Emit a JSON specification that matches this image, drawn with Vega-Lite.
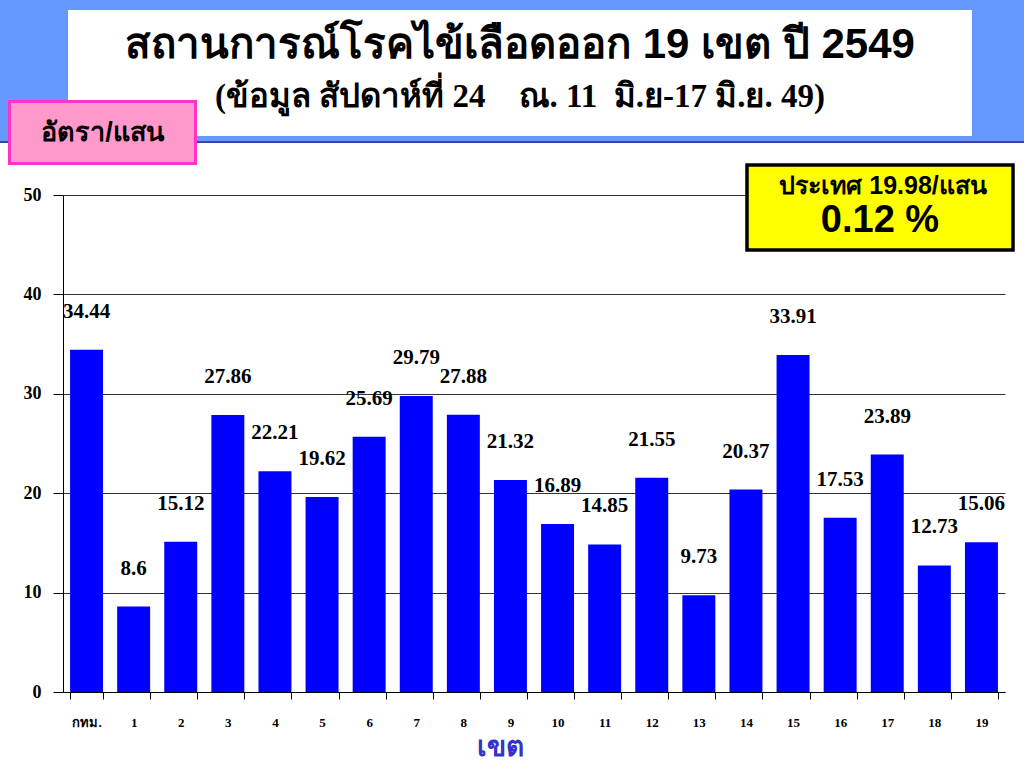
{
  "$schema": "https://vega.github.io/schema/vega-lite/v6.json",
  "autosize": {"type": "none"},
  "width": 942,
  "height": 497,
  "padding": {"left": 63, "top": 195, "right": 19, "bottom": 76},
  "background": "white",
  "title": {
    "text": "สถานการณ์โรคไข้เลือดออก 19 เขต ปี 2549",
    "subtitle": "(ข้อมูล สัปดาห์ที่ 24\u00a0\u00a0\u00a0 ณ. 11\u00a0\u00a0มิ.ย-17 มิ.ย. 49)",
    "anchor": "middle",
    "frame": "group",
    "orient": "top",
    "offset": -118,
    "dx": -14,
    "font": "Liberation Sans",
    "fontSize": 42,
    "fontWeight": "bold",
    "color": "black",
    "subtitleFont": "Liberation Serif",
    "subtitleFontSize": 33,
    "subtitleFontWeight": "bold",
    "subtitleColor": "black",
    "subtitlePadding": 14,
    "zindex": 5
  },
  "data": {
    "values": [
      {"zone": "กทม.", "rate": 34.44},
      {"zone": "1", "rate": 8.6},
      {"zone": "2", "rate": 15.12},
      {"zone": "3", "rate": 27.86},
      {"zone": "4", "rate": 22.21},
      {"zone": "5", "rate": 19.62},
      {"zone": "6", "rate": 25.69},
      {"zone": "7", "rate": 29.79},
      {"zone": "8", "rate": 27.88},
      {"zone": "9", "rate": 21.32},
      {"zone": "10", "rate": 16.89},
      {"zone": "11", "rate": 14.85},
      {"zone": "12", "rate": 21.55},
      {"zone": "13", "rate": 9.73},
      {"zone": "14", "rate": 20.37},
      {"zone": "15", "rate": 33.91},
      {"zone": "16", "rate": 17.53},
      {"zone": "17", "rate": 23.89},
      {"zone": "18", "rate": 12.73},
      {"zone": "19", "rate": 15.06}
    ]
  },
  "encoding": {
    "x": {
      "field": "zone",
      "type": "nominal",
      "sort": null,
      "scale": {"paddingInner": 0.3, "paddingOuter": 0.15},
      "axis": {
        "title": "เขต",
        "titleColor": "#3333cc",
        "titleFont": "Liberation Sans",
        "titleFontSize": 28,
        "titleFontWeight": "bold",
        "titlePadding": 4,
        "titleX": 437,
        "labelAngle": 0,
        "labelFont": "Liberation Serif",
        "labelFontSize": 13,
        "labelFontWeight": "bold",
        "labelColor": "black",
        "labelPadding": 17,
        "tickBand": "extent",
        "tickSize": 7,
        "tickColor": "black",
        "domainColor": "black",
        "grid": false
      }
    },
    "y": {
      "field": "rate",
      "type": "quantitative",
      "scale": {"domain": [0, 50], "nice": false},
      "axis": {
        "title": null,
        "values": [0, 10, 20, 30, 40, 50],
        "grid": true,
        "gridColor": "#333333",
        "gridWidth": 1,
        "domainColor": "black",
        "tickColor": "black",
        "tickSize": 10,
        "labelPadding": 12,
        "labelFont": "Liberation Serif",
        "labelFontSize": 18,
        "labelFontWeight": "bold",
        "labelColor": "black"
      }
    }
  },
  "layer": [
    {
      "mark": {"type": "bar", "strokeWidth": 0, "fill": "#0000ff"},
      "encoding": {
        "color": {
          "datum": "0.12 %",
          "scale": {"range": ["#ffff00"]},
          "legend": {
            "orient": "none",
            "legendX": 682,
            "legendY": -21,
            "zindex": 3,
            "padding": 0,
            "title": "ประเทศ 19.98/แสน",
            "titleFont": "Liberation Sans",
            "titleFontSize": 25,
            "titleFontWeight": "bold",
            "titleColor": "black",
            "titleAnchor": "middle",
            "titleOrient": "top",
            "titlePadding": -126.5,
            "titleLimit": 500,
            "symbolType": "M-1,-0.3195H1V0.3195H-1Z",
            "symbolSize": 70756,
            "symbolStrokeWidth": 3.5,
            "symbolStrokeColor": "black",
            "symbolOpacity": 1,
            "labelFont": "Liberation Sans",
            "labelFontSize": 38,
            "labelFontWeight": "bold",
            "labelColor": "black",
            "labelAlign": "center",
            "labelOffset": -135,
            "labelLimit": 500,
            "encode": {
              "symbols": {"update": {"stroke": {"value": "black"}, "strokeWidth": {"value": 3.5}}},
              "labels": {"update": {"dy": {"value": 13}}}
            }
          }
        },
        "stroke": {
          "datum": 1,
          "type": "quantitative",
          "scale": {"domain": [0, 1], "range": ["#6699ff", "#6699ff"]},
          "legend": {
            "orient": "none",
            "legendX": -66,
            "legendY": -198,
            "direction": "horizontal",
            "gradientLength": 1030,
            "gradientThickness": 145,
            "gradientStrokeColor": "#3344aa",
            "gradientStrokeWidth": 2,
            "title": null,
            "labelExpr": "''",
            "labelFontSize": 1,
            "padding": 0,
            "zindex": 1
          }
        }
      }
    },
    {
      "mark": {"type": "text", "dy": -38, "font": "Liberation Serif", "fontSize": 21, "fontWeight": "bold", "strokeWidth": 0, "fill": "black"},
      "encoding": {
        "text": {"field": "rate", "type": "quantitative"},
        "color": {
          "datum": "อัตรา/แสน",
          "scale": {"range": ["#ff99cc"]},
          "legend": {
            "orient": "none",
            "legendX": -55,
            "legendY": -157,
            "zindex": 3,
            "padding": 0,
            "title": null,
            "symbolType": "M-1,-0.3333H1V0.3333H-1Z",
            "symbolSize": 34596,
            "symbolStrokeWidth": 3,
            "symbolStrokeColor": "#ff33cc",
            "symbolOpacity": 1,
            "labelFont": "Liberation Sans",
            "labelFontSize": 27,
            "labelFontWeight": "bold",
            "labelColor": "black",
            "labelAlign": "center",
            "labelOffset": -94.5,
            "labelLimit": 400,
            "encode": {
              "symbols": {"update": {"stroke": {"value": "#ff33cc"}, "strokeWidth": {"value": 3}}}
            }
          }
        },
        "stroke": {
          "datum": 1,
          "type": "quantitative",
          "scale": {"domain": [0, 2], "range": ["white", "white"]},
          "legend": {
            "orient": "none",
            "legendX": 5,
            "legendY": -185,
            "direction": "horizontal",
            "gradientLength": 904,
            "gradientThickness": 126,
            "gradientStrokeWidth": 0,
            "title": null,
            "labelExpr": "''",
            "labelFontSize": 1,
            "padding": 0,
            "zindex": 2
          }
        }
      }
    }
  ],
  "resolve": {
    "scale": {"color": "independent", "stroke": "independent"},
    "legend": {"color": "independent", "stroke": "independent"}
  },
  "config": {"view": {"stroke": null}}
}
